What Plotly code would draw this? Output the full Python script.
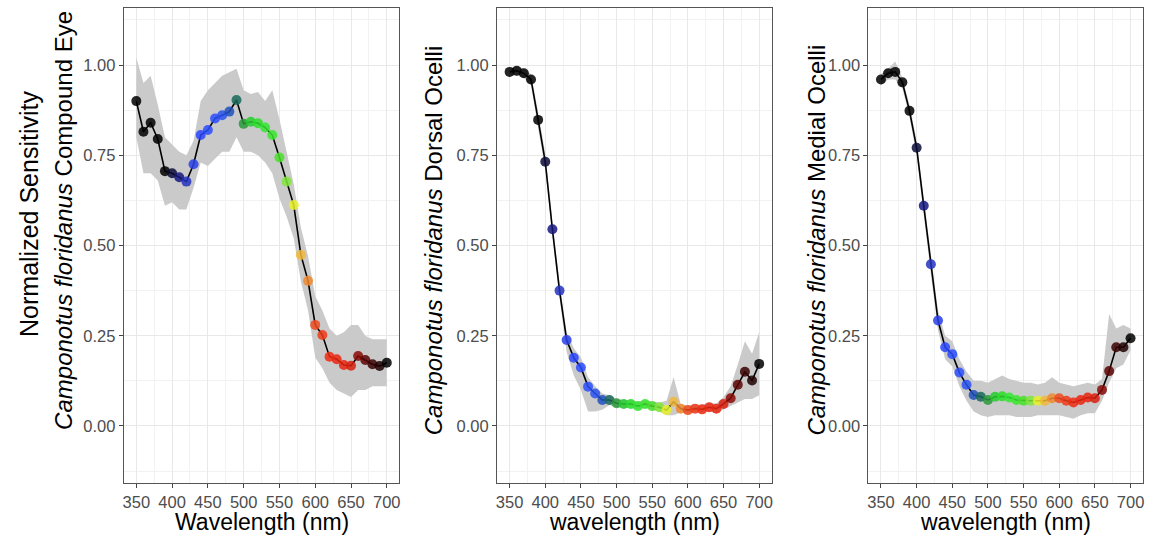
import plotly.graph_objects as go

wavelength = list(range(350, 701, 10))

compound_mean = [0.900, 0.815, 0.840, 0.795, 0.706, 0.700, 0.689, 0.677, 0.725, 0.806,
                 0.820, 0.852, 0.861, 0.871, 0.903, 0.837, 0.843, 0.839, 0.827, 0.806,
                 0.744, 0.677, 0.612, 0.474, 0.402, 0.280, 0.252, 0.192, 0.185, 0.169,
                 0.167, 0.194, 0.183, 0.171, 0.166, 0.175]
compound_upper = [1.02, 0.95, 0.97, 0.89, 0.80, 0.78, 0.76, 0.75, 0.79, 0.90,
                  0.93, 0.95, 0.97, 0.98, 0.99, 0.93, 0.92, 0.925, 0.90, 0.93,
                  0.85, 0.76, 0.67, 0.55, 0.47, 0.36, 0.32, 0.27, 0.25, 0.26,
                  0.28, 0.28, 0.25, 0.24, 0.24, 0.24]
compound_lower = [0.80, 0.70, 0.70, 0.68, 0.61, 0.62, 0.60, 0.60, 0.66, 0.73,
                  0.72, 0.74, 0.76, 0.76, 0.80, 0.76, 0.76, 0.75, 0.73, 0.70,
                  0.63, 0.58, 0.52, 0.40, 0.32, 0.19, 0.16, 0.12, 0.10, 0.09,
                  0.08, 0.10, 0.10, 0.11, 0.11, 0.11]

dorsal_mean = [0.981, 0.984, 0.977, 0.960, 0.848, 0.732, 0.545, 0.375, 0.238, 0.189,
               0.162, 0.109, 0.090, 0.072, 0.072, 0.063, 0.061, 0.061, 0.055, 0.061,
               0.055, 0.052, 0.044, 0.067, 0.048, 0.044, 0.048, 0.046, 0.052, 0.048,
               0.061, 0.077, 0.114, 0.150, 0.126, 0.172]
dorsal_upper = [0.99, 0.995, 0.99, 0.975, 0.87, 0.755, 0.565, 0.395, 0.26, 0.215,
                0.19, 0.135, 0.11, 0.09, 0.085, 0.075, 0.072, 0.072, 0.067, 0.072,
                0.067, 0.065, 0.07, 0.135, 0.06, 0.056, 0.06, 0.058, 0.064, 0.062,
                0.08, 0.11, 0.17, 0.235, 0.20, 0.26]
dorsal_lower = [0.97, 0.97, 0.965, 0.945, 0.825, 0.71, 0.525, 0.355, 0.205, 0.14,
                0.10, 0.04, 0.04, 0.045, 0.058, 0.052, 0.05, 0.05, 0.045, 0.05,
                0.045, 0.04, 0.03, 0.03, 0.038, 0.034, 0.038, 0.036, 0.04, 0.036,
                0.045, 0.055, 0.065, 0.075, 0.075, 0.085]

medial_mean = [0.960, 0.977, 0.981, 0.952, 0.873, 0.771, 0.610, 0.448, 0.292, 0.218,
               0.199, 0.148, 0.114, 0.086, 0.081, 0.072, 0.081, 0.082, 0.079, 0.072,
               0.070, 0.070, 0.070, 0.070, 0.077, 0.077, 0.070, 0.065, 0.072, 0.079,
               0.077, 0.100, 0.152, 0.218, 0.218, 0.243]
medial_upper = [0.975, 0.99, 1.01, 0.965, 0.89, 0.79, 0.63, 0.475, 0.32, 0.25,
                0.235, 0.185, 0.15, 0.125, 0.125, 0.12, 0.13, 0.14, 0.13, 0.125,
                0.12, 0.12, 0.115, 0.12, 0.135, 0.12, 0.115, 0.11, 0.115, 0.12,
                0.115, 0.13, 0.31, 0.27, 0.28, 0.27]
medial_lower = [0.945, 0.96, 0.96, 0.935, 0.855, 0.75, 0.59, 0.42, 0.265, 0.185,
                0.165, 0.11, 0.07, 0.04, 0.03, 0.025, 0.03, 0.03, 0.03, 0.025,
                0.025, 0.025, 0.03, 0.03, 0.03, 0.03, 0.025, 0.02, 0.03, 0.035,
                0.035, 0.07, 0.12, 0.16, 0.17, 0.21]

# point colours, one per wavelength (style)
point_colors = ["#000000", "#000000", "#000000", "#000000", "#000000", "#0c0c3a",
                "#181880", "#2332c0", "#2a3fe8", "#2a48ff", "#2a4cff", "#2a50ff",
                "#2a52f0", "#2050c0", "#1a6a5a", "#2a9a3a", "#26cc30", "#2ade2a",
                "#33e633", "#3ae62e", "#4ae02a", "#80e63a", "#e8f028", "#f2b83a",
                "#f08a30", "#ee4a1e", "#ee3a18", "#ee2a12", "#ea2612", "#e82410",
                "#d81e0e", "#8a0a06", "#5a0504", "#380202", "#200101", "#000000"]

panels = [
    (compound_mean, compound_upper, compound_lower, "Wavelength (nm)",
     "<i>Camponotus floridanus</i> Compound Eye"),
    (dorsal_mean, dorsal_upper, dorsal_lower, "wavelength (nm)",
     "<i>Camponotus floridanus</i> Dorsal Ocelli"),
    (medial_mean, medial_upper, medial_lower, "wavelength (nm)",
     "<i>Camponotus floridanus</i> Medial Ocelli"),
]

W, H = 1154, 544
x_px = [(123, 399), (497, 772), (869, 1144)]
ytitle_pos = [(62, 220), (433, 240), (816, 240)]
y_top, y_bot = 8, 483
ydom = [1 - y_bot / H, 1 - y_top / H]

FONT = "Liberation Sans, Arial, sans-serif"
fig = go.Figure()
annotations = []

for i, (mean, up, lo, xt, yt) in enumerate(panels):
    n = "" if i == 0 else str(i + 1)
    xa, ya = "x" + n, "y" + n
    fig.add_trace(go.Scatter(x=wavelength + wavelength[::-1], y=up + lo[::-1],
                             fill="toself", fillcolor="#cacaca", line=dict(width=0),
                             mode="lines", hoverinfo="skip", showlegend=False,
                             xaxis=xa, yaxis=ya))
    fig.add_trace(go.Scatter(x=wavelength, y=mean, mode="lines",
                             line=dict(color="black", width=1.6),
                             showlegend=False, xaxis=xa, yaxis=ya))
    fig.add_trace(go.Scatter(x=wavelength, y=mean, mode="markers",
                             marker=dict(color=point_colors, size=10, opacity=0.85,
                                         line=dict(width=0)),
                             showlegend=False, xaxis=xa, yaxis=ya))
    x0, x1 = x_px[i]
    axis_common = dict(showline=True, mirror=True, linecolor="#555555", linewidth=1.2,
                       ticks="outside", ticklen=4, tickcolor="#444444", tickwidth=1.2,
                       gridcolor="#e8e8e8", gridwidth=1.2, zeroline=False,
                       tickfont=dict(family=FONT, size=16.5, color="#4d4d4d"))
    fig.update_layout(**{
        ("xaxis" + n): dict(domain=[x0 / W, x1 / W], range=[332.5, 717.5],
                            tickmode="linear", tick0=350, dtick=50,
                            minor=dict(dtick=25, tick0=350, showgrid=True,
                                       gridcolor="#f2f2f2", gridwidth=0.8, ticks=""),
                            anchor=ya, **axis_common),
        ("yaxis" + n): dict(domain=ydom, range=[-0.158, 1.158],
                            tickmode="linear", tick0=0, dtick=0.25, tickformat=".2f",
                            minor=dict(dtick=0.125, tick0=0, showgrid=True,
                                       gridcolor="#f2f2f2", gridwidth=0.8, ticks=""),
                            anchor=xa, **axis_common),
    })
    annotations.append(dict(text=xt, x=(x0 + x1) / 2 / W, y=1 - 522 / H,
                            xref="paper", yref="paper", showarrow=False,
                            xanchor="center", yanchor="middle",
                            font=dict(family=FONT, size=23, color="black")))
    tx, ty = ytitle_pos[i]
    annotations.append(dict(text=yt, x=tx / W, y=1 - ty / H, xref="paper",
                            yref="paper", showarrow=False, textangle=-90,
                            xanchor="center", yanchor="middle",
                            font=dict(family=FONT, size=24, color="black")))

annotations.append(dict(text="Normalized Sensitivity", x=28 / W, y=1 - 214 / H,
                        xref="paper", yref="paper", showarrow=False, textangle=-90,
                        xanchor="center", yanchor="middle",
                        font=dict(family=FONT, size=25, color="black")))

fig.update_layout(width=W, height=H, margin=dict(l=0, r=0, t=0, b=0),
                  paper_bgcolor="white", plot_bgcolor="white",
                  annotations=annotations, showlegend=False)

fig.write_html("out.html")
